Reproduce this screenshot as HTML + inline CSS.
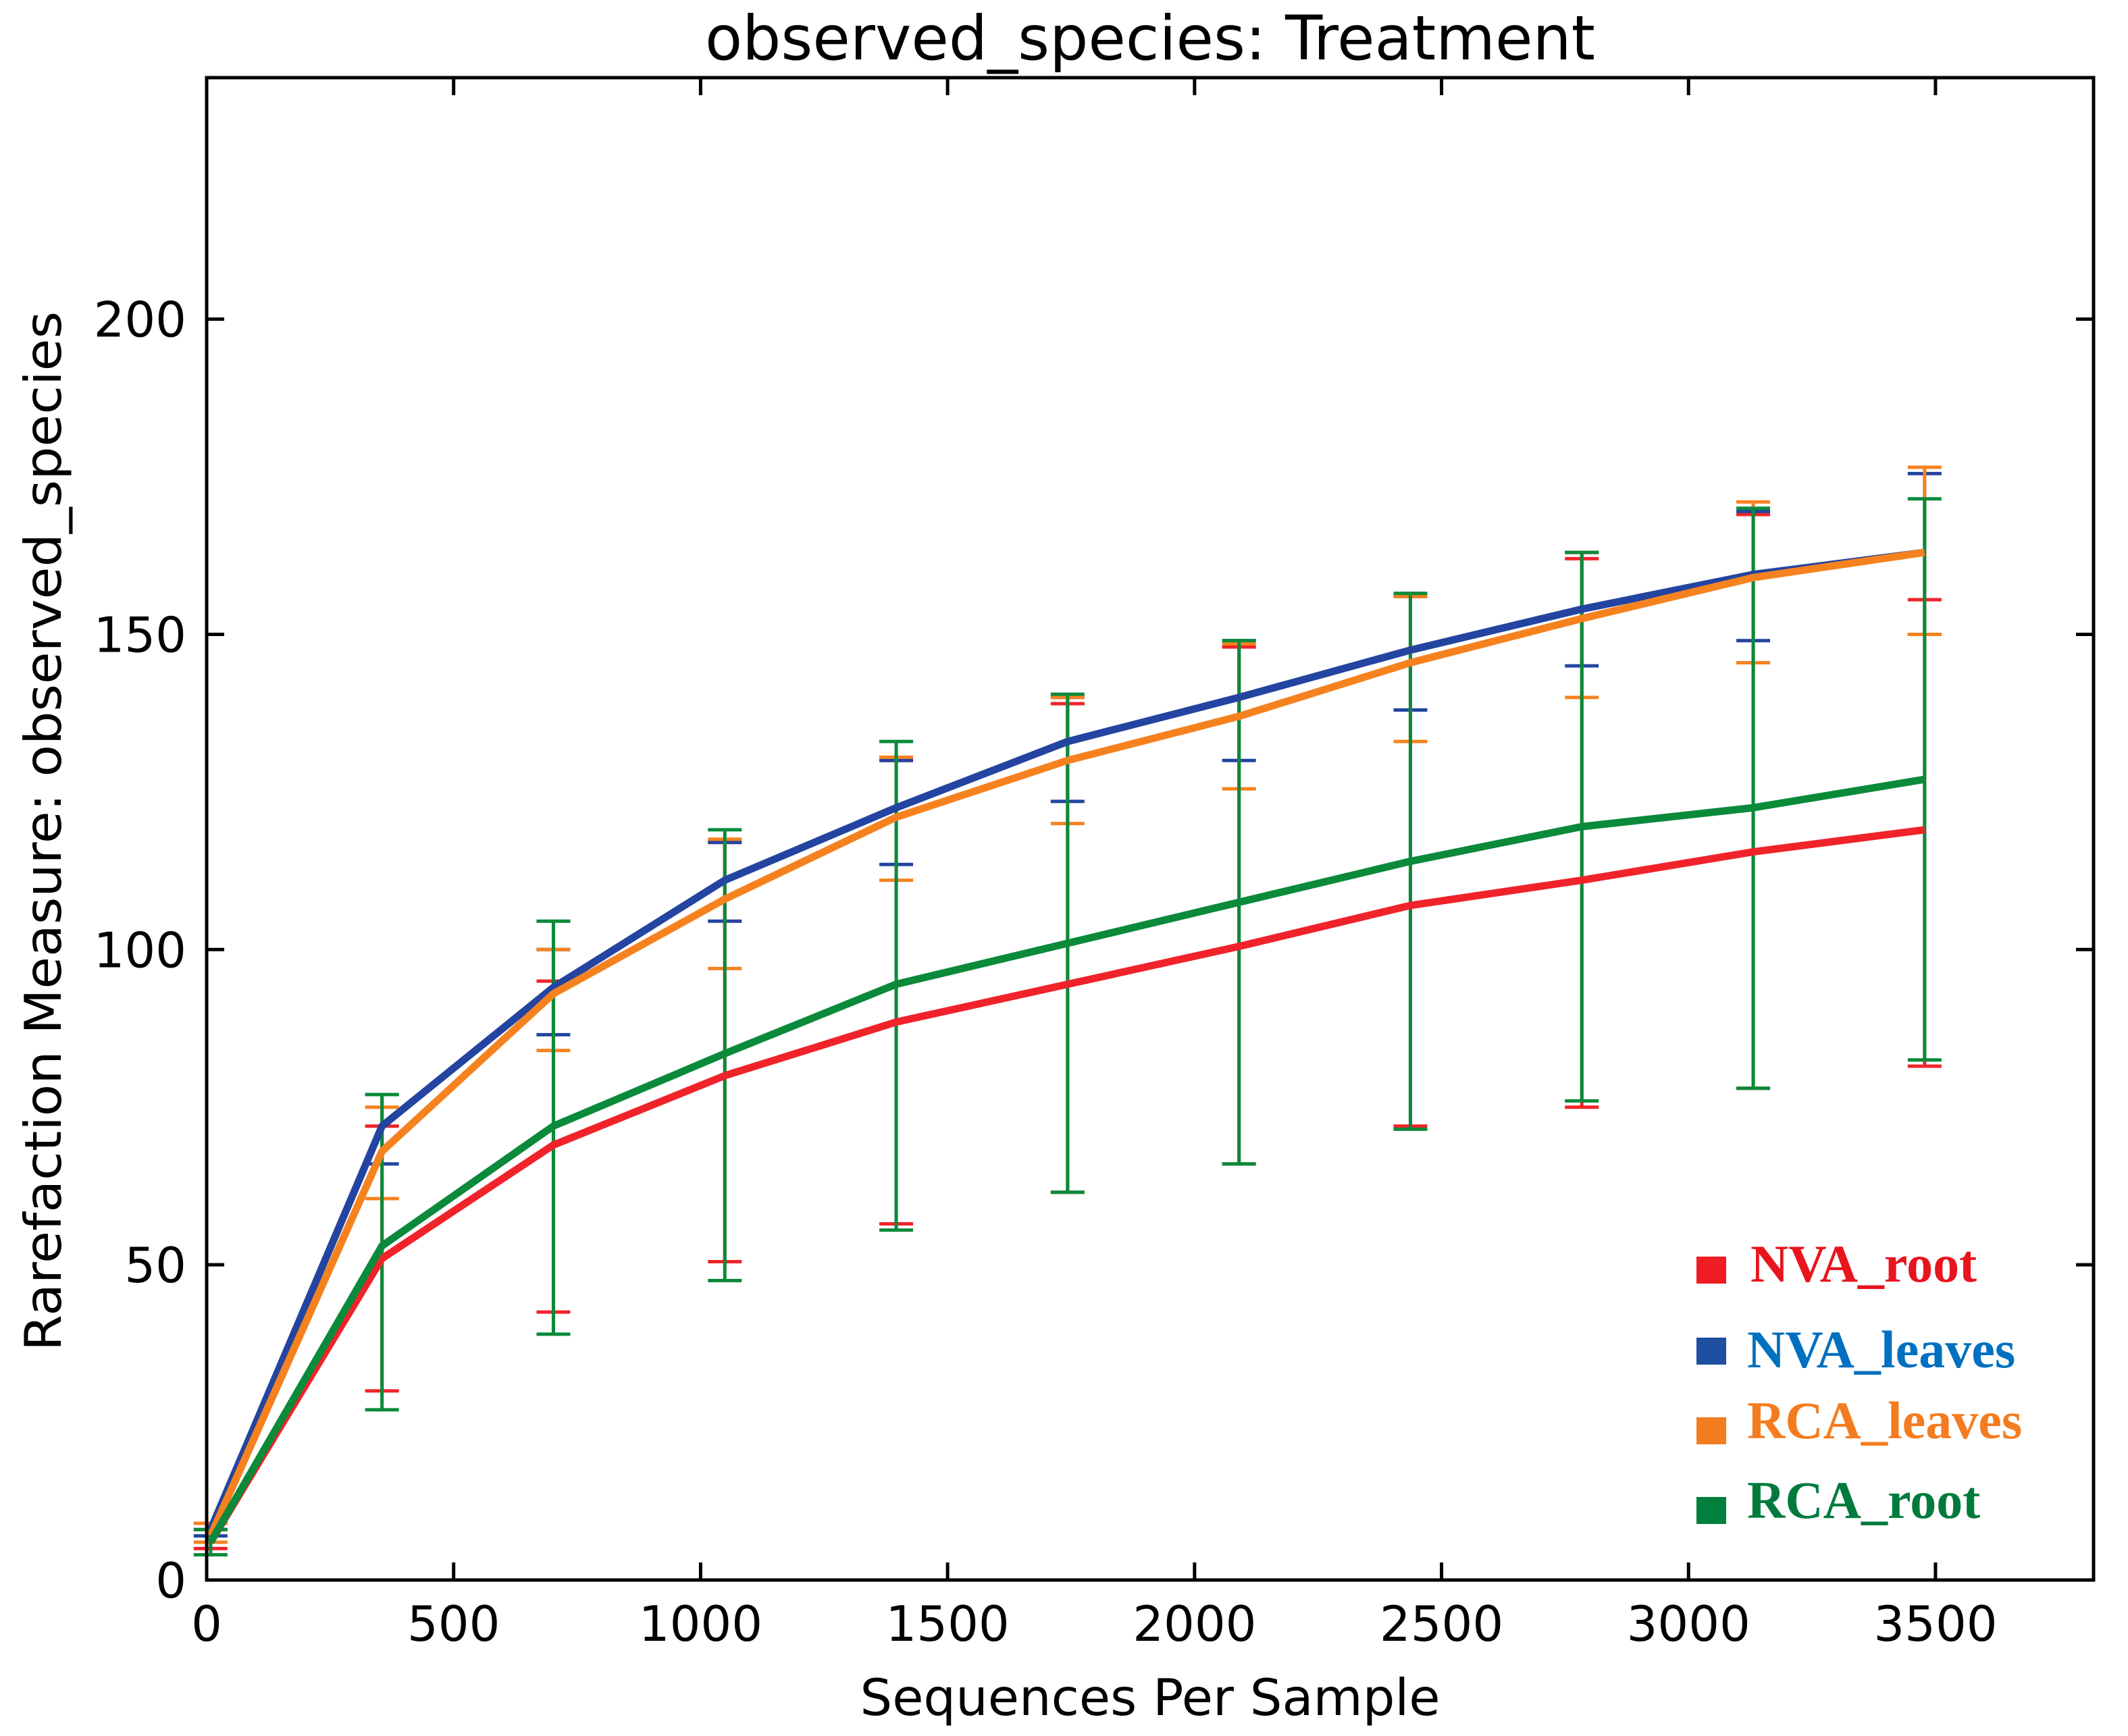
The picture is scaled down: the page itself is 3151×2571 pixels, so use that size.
<!DOCTYPE html>
<html><head><meta charset="utf-8"><style>
html,body{margin:0;padding:0;background:#fff;}
svg{display:block;}
</style></head><body>
<svg id="chart" width="3151" height="2571" viewBox="0 0 3151 2571" xmlns="http://www.w3.org/2000/svg" font-family="'DejaVu Sans','Liberation Sans',sans-serif">
<rect width="3151" height="2571" fill="#fff"/>
<text x="1703" y="88" font-size="91" text-anchor="middle" textLength="1318" lengthAdjust="spacingAndGlyphs">observed_species: Treatment</text>
<text x="1703" y="2540" font-size="75" text-anchor="middle" textLength="859" lengthAdjust="spacingAndGlyphs">Sequences Per Sample</text>
<text x="0" y="0" font-size="75" text-anchor="middle" transform="translate(90,1231) rotate(-90)" textLength="1540" lengthAdjust="spacingAndGlyphs">Rarefaction Measure: observed_species</text>
<g id="errs"></g>
<g id="lines"></g>
<g id="axes"></g>
<g id="legend" font-family="'Liberation Serif',serif" font-weight="bold" font-size="78">
<rect x="2512" y="1861" width="44" height="40" fill="#f01c24"/>
<text x="2592" y="1898" fill="#e8141e">NVA_root</text>
<rect x="2512" y="1981" width="44" height="40" fill="#1e4fa0"/>
<text x="2587" y="2025" fill="#0070c0">NVA_leaves</text>
<rect x="2512" y="2099" width="44" height="40" fill="#f47c20"/>
<text x="2587" y="2130" fill="#f47c20">RCA_leaves</text>
<rect x="2512" y="2217" width="44" height="40" fill="#00803c"/>
<text x="2587" y="2248" fill="#007a3d">RCA_root</text>
</g>
</svg>
<script>
const xValues = [8, 355, 702, 1049, 1396, 1743, 2090, 2437, 2784, 3131, 3478];
const nvaRoot = [6, 51, 69, 80, 88.5, 94.5, 100.5, 107, 111, 115.5, 119];
const nvaRootLo = [5, 30, 42.5, 50.5, 56.5, 61.5, 66, 72, 75, 78, 81.5];
const nvaRootHi = [8, 72, 95, 117, 130, 139, 148, 156, 162, 169, 155.5];
const nvaLeaves = [8, 72, 94, 111, 122.5, 133, 140, 147.5, 154, 159.5, 163];
const nvaLeavesLo = [7, 66, 86.5, 104.5, 113.5, 123.5, 130, 138, 145, 149, 150];
const nvaLeavesHi = [9, 77, 100, 117, 130, 140, 149, 156, 163, 169.5, 175.5];
const rcaLeaves = [7, 68, 93, 108, 121, 130, 137, 145.5, 152.5, 159, 163];
const rcaLeavesLo = [6, 60.5, 84, 97, 111, 120, 125.5, 133, 140, 145.5, 150];
const rcaLeavesHi = [9, 75, 100, 117.5, 130.5, 140, 148.5, 156, 163, 171, 176.5];
const rcaRoot = [6, 53, 72, 83.5, 94.5, 101, 107.5, 114, 119.5, 122.5, 127];
const rcaRootLo = [4, 27, 39, 47.5, 55.5, 61.5, 66, 71.5, 76, 78, 82.5];
const rcaRootHi = [8, 77, 104.5, 119, 133, 140.5, 149, 156.5, 163, 170, 171.5];
const xTicks = [0, 500, 1000, 1500, 2000, 2500, 3000, 3500];
const yTicks = [0, 50, 100, 150, 200];

const L=306, R=3100, T=115, B=2340;
const XMAX=3820, YMAX=238.3;
const sx = v => L + v/XMAX*(R-L);
const sy = v => B - v/YMAX*(B-T);
const NS="http://www.w3.org/2000/svg";
function mk(tag, attrs, parent){const e=document.createElementNS(NS,tag);for(const k in attrs)e.setAttribute(k,attrs[k]);parent.appendChild(e);return e;}

const series = [
 {key:'nva-root', vals:nvaRoot, lo:nvaRootLo, hi:nvaRootHi, color:'#f0232a'},
 {key:'nva-leaves', vals:nvaLeaves, lo:nvaLeavesLo, hi:nvaLeavesHi, color:'#2344a0'},
 {key:'rca-leaves', vals:rcaLeaves, lo:rcaLeavesLo, hi:rcaLeavesHi, color:'#f5821f'},
 {key:'rca-root', vals:rcaRoot, lo:rcaRootLo, hi:rcaRootHi, color:'#0a8a3a'}
];
const errs=document.getElementById('errs'), lines=document.getElementById('lines'), axes=document.getElementById('axes');
series.forEach(s=>{
  xValues.forEach((x,i)=>{
    const g=mk('g',{stroke:s.color,'stroke-width':5},errs);
    
    
    const cx=sx(x);
    mk('line',{x1:cx,x2:cx,y1:sy(s.lo[i]),y2:sy(s.hi[i])},g);
    mk('line',{x1:cx-25,x2:cx+25,y1:sy(s.lo[i]),y2:sy(s.lo[i])},g);
    mk('line',{x1:cx-25,x2:cx+25,y1:sy(s.hi[i]),y2:sy(s.hi[i])},g);
  });
});
series.forEach(s=>{
  const p=mk('polyline',{points:xValues.map((x,i)=>sx(x)+','+sy(s.vals[i])).join(' '),fill:'none',stroke:s.color,'stroke-width':11,'stroke-linejoin':'round'},lines);
  
  
});
const frame=mk('rect',{x:L,y:T,width:R-L,height:B-T,fill:'none',stroke:'#000','stroke-width':5},axes);


xTicks.forEach(v=>{
  const x=sx(v);
  mk('line',{x1:x,x2:x,y1:B,y2:B-26,stroke:'#000','stroke-width':5},axes);
  mk('line',{x1:x,x2:x,y1:T,y2:T+26,stroke:'#000','stroke-width':5},axes);
  const t=mk('text',{x:x,y:B+90,'font-size':72,'text-anchor':'middle'},axes);
  
  
  t.textContent=v;
});
yTicks.forEach(v=>{
  const y=sy(v);
  mk('line',{x1:L,x2:L+26,y1:y,y2:y,stroke:'#000','stroke-width':5},axes);
  mk('line',{x1:R,x2:R-26,y1:y,y2:y,stroke:'#000','stroke-width':5},axes);
  const t=mk('text',{x:L-30,y:y+26,'font-size':72,'text-anchor':'end'},axes);
  
  
  t.textContent=v;
});
</script>
</body></html>
